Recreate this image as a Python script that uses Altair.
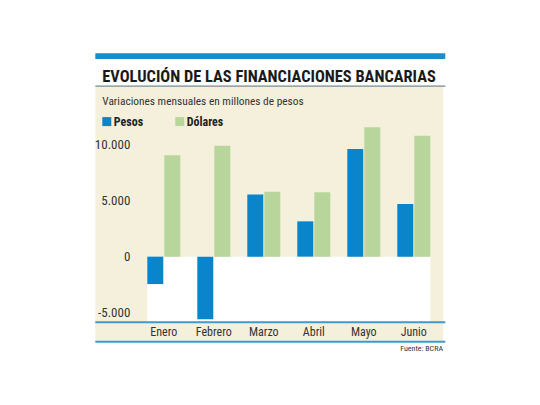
import altair as alt
import pandas as pd

meses = ["Enero", "Febrero", "Marzo", "Abril", "Mayo", "Junio"]
pesos = [-2450, -5600, 5550, 3150, 9600, 4700]
dolares = [9050, 9900, 5800, 5750, 11550, 10800]
series = ["Pesos", "Dólares"]
ticks_y = [-5000, 0, 5000, 10000]

FONT = "Roboto Condensed, DejaVu Sans Condensed, sans-serif"
BEIGE = "#f5f0dc"
AZUL = "#0a85cc"
VERDE = "#b8d69c"
LINEA = "#3d9bd0"

df = pd.DataFrame({
    "mes": meses * 2,
    "serie": ["Pesos"] * len(meses) + ["Dólares"] * len(meses),
    "valor": pesos + dolares,
})
one = pd.DataFrame({"k": [0]})

W, H = 300, 196
Y_MIN, Y_MAX = -5800, 11700

# decorative frame, in pixels relative to the plot area
fondo = alt.Chart(one).mark_rect(color=BEIGE).encode(
    x=alt.value(-43.5), x2=alt.value(304.5),
    y=alt.value(-38.6), y2=alt.value(216)
)
banda = alt.Chart(one).mark_rect(color="#1a8cc8").encode(
    x=alt.value(-43.5), x2=alt.value(306.5),
    y=alt.value(-72.3), y2=alt.value(-66.6)
)
blanco = alt.Chart(one).mark_rect(color="white").encode(
    x=alt.value(8.5), x2=alt.value(291.5),
    y=alt.datum(0), y2=alt.datum(Y_MIN)
)
linea_titulo = alt.Chart(one).mark_rule(color="#4a6b78", strokeWidth=1).encode(
    x=alt.value(-43.5), x2=alt.value(306.5), y=alt.value(-39.5)
)
linea_base = alt.Chart(one).mark_rule(color=LINEA, strokeWidth=2).encode(
    x=alt.value(-43.5), x2=alt.value(306.5), y=alt.value(196.7)
)
linea_pie = alt.Chart(one).mark_rule(color=LINEA, strokeWidth=2).encode(
    x=alt.value(-43.5), x2=alt.value(306.5), y=alt.value(216.1)
)

barras = alt.Chart(df).mark_bar().encode(
    x=alt.X(
        "mes:N", sort=meses,
        scale=alt.Scale(paddingInner=0.34, paddingOuter=0.17),
        axis=alt.Axis(title=None, labelAngle=0, ticks=False, domain=False, zindex=1,
                      labelPadding=5, labelFontSize=12, labelFont=FONT,
                      labelColor="#333333", labelBaseline="top")
    ),
    xOffset=alt.XOffset("serie:N", sort=series, scale=alt.Scale(paddingInner=0.06)),
    y=alt.Y(
        "valor:Q",
        scale=alt.Scale(domain=[Y_MIN, Y_MAX], nice=False, zero=False),
        axis=alt.Axis(
            title=None, values=ticks_y, grid=False, ticks=False, domain=False, zindex=1,
            labelPadding=9, labelFontSize=13, labelFont=FONT, labelColor="#333333",
            labelExpr="(datum.value < 0 ? '-' : '') + replace(format(abs(datum.value), ','), ',', '.')"
        )
    ),
    color=alt.Color(
        "serie:N",
        scale=alt.Scale(domain=series, range=[AZUL, VERDE]),
        legend=alt.Legend(
            title=None, orient="none", legendX=-38, legendY=-10,
            direction="horizontal", symbolType="square", symbolSize=81,
            symbolStrokeWidth=0, labelFont=FONT, labelFontSize=12,
            labelFontWeight="bold", labelColor="#222222", labelOffset=1,
            columnPadding=30
        )
    )
)

titulo = alt.Chart(one).mark_text(
    text="EVOLUCIÓN DE LAS FINANCIACIONES BANCARIAS", align="left",
    baseline="alphabetic", font=FONT, fontSize=16.4, fontWeight="bold", color="#1a1a1a"
).encode(x=alt.value(-36.5), y=alt.value(-43.8))

subtitulo = alt.Chart(one).mark_text(
    text="Variaciones mensuales en millones de pesos", align="left",
    baseline="alphabetic", font=FONT, fontSize=11.4, color="#333333"
).encode(x=alt.value(-36.5), y=alt.value(-21))

fuente = alt.Chart(one).mark_text(
    text="Fuente: BCRA", align="right", baseline="middle",
    font=FONT, fontSize=8, color="#333333"
).encode(x=alt.value(304.2), y=alt.value(223.4))

chart = alt.layer(
    fondo, banda, linea_titulo, blanco, barras, linea_base, linea_pie,
    titulo, subtitulo, fuente
).properties(
    width=W, height=H,
    autosize=alt.AutoSizeParams(type="none"),
    padding={"left": 130.8, "top": 117.6, "right": 90, "bottom": 60},
    background="white"
).configure_view(stroke=None)

chart.save("out.html", embed_options={"renderer": "svg", "actions": False})
